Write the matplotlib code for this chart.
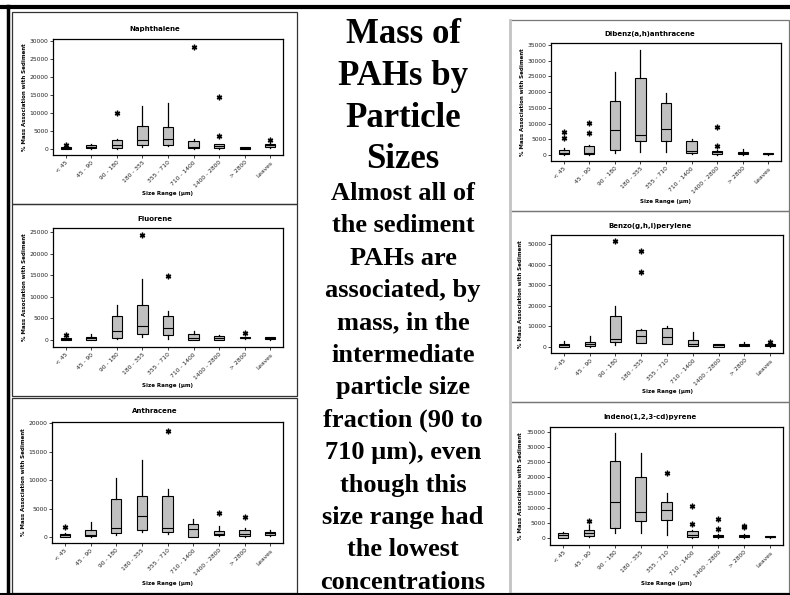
import matplotlib
matplotlib.use("Agg")
import matplotlib.pyplot as plt
from matplotlib.patches import Rectangle
from matplotlib.lines import Line2D

W, H = 790, 595

size_ranges = ["< 45", "45 - 90", "90 - 180", "180 - 355", "355 - 710",
               "710 - 1400", "1400 - 2800", "> 2800", "Leaves"]

# Naphthalene
naph_q1 = [100, 300, 300, 1000, 1100, 200, 200, 100, 500]
naph_med = [300, 600, 950, 2600, 2800, 550, 700, 300, 1000]
naph_q3 = [500, 1000, 2600, 6450, 6100, 2200, 1400, 500, 1400]
naph_lo = [0, 100, 100, 450, 700, 0, 0, 0, 300]
naph_hi = [800, 1300, 2800, 11850, 12800, 2700, 1500, 600, 1700]
naph_out = [[1200], [], [9900], [], [], [28500], [14350, 3500], [], [2600]]

# Fluorene
fluo_q1 = [0, 100, 460, 1460, 1150, 0, 0, 400, 200]
fluo_med = [300, 500, 2100, 3300, 2900, 500, 400, 550, 500]
fluo_q3 = [500, 750, 5600, 8100, 5600, 1300, 1000, 700, 750]
fluo_lo = [0, 0, 300, 600, 200, 0, 0, 300, 100]
fluo_hi = [800, 1400, 8200, 14100, 6700, 2000, 1100, 750, 800]
fluo_out = [[1150], [], [], [24200], [14800], [], [], [1700], []]

# Anthracene
anth_q1 = [0, 100, 700, 1180, 900, 0, 300, 100, 300]
anth_med = [300, 400, 1500, 3650, 1650, 1400, 550, 500, 700]
anth_q3 = [600, 1300, 6750, 7200, 7200, 2250, 1050, 1200, 900]
anth_lo = [0, 0, 300, 900, 500, 0, 100, 0, 200]
anth_hi = [750, 2650, 10300, 13500, 8350, 3200, 1900, 1600, 1200]
anth_out = [[1750], [], [], [], [18700], [], [4300], [3500], []]

# Dibenz(a,h)anthracene
diben_q1 = [200, 300, 1600, 4350, 4350, 750, 200, 200, 200]
diben_med = [500, 750, 7950, 6250, 8150, 1400, 850, 600, 350]
diben_q3 = [1600, 3000, 17300, 24400, 16650, 4350, 1300, 1000, 500]
diben_lo = [0, 0, 800, 1000, 900, 400, 0, 0, 100]
diben_hi = [2100, 3300, 26500, 33400, 19600, 5000, 1500, 1800, 700]
diben_out = [[7200, 5300], [10100, 7000], [], [], [], [], [8900, 3000], [], []]

# Benzo(g,h,i)perylene
benzo_q1 = [200, 300, 2250, 2100, 1600, 650, 200, 500, 500]
benzo_med = [800, 1450, 3900, 5500, 5000, 1300, 800, 1000, 1000]
benzo_q3 = [1600, 2300, 14900, 8250, 9200, 3550, 1300, 1600, 1450]
benzo_lo = [0, 0, 800, 1800, 1300, 300, 0, 300, 200]
benzo_hi = [2750, 5200, 19700, 8700, 10200, 7100, 1500, 2400, 1700]
benzo_out = [[], [], [51300], [46800, 36250], [], [], [], [], [2300]]

# Indeno(1,2,3-cd)pyrene
inden_q1 = [100, 650, 3300, 5470, 5800, 200, 200, 200, 200]
inden_med = [900, 1750, 11800, 8550, 9300, 1100, 650, 750, 450]
inden_q3 = [1500, 2750, 25400, 20000, 12000, 2200, 1100, 1100, 650]
inden_lo = [0, 300, 1500, 1500, 900, 0, 0, 0, 100]
inden_hi = [2000, 4250, 34700, 28100, 14800, 2500, 1300, 1400, 800]
inden_out = [[], [5500], [], [], [21450], [10500, 4600], [6350, 3050], [3500, 3900], []]

title_lines = ["Mass of", "PAHs by", "Particle", "Sizes"]
body_lines = ["Almost all of", "the sediment", "PAHs are", "associated, by",
              "mass, in the", "intermediate", "particle size", "fraction (90 to",
              "710 \u00b5m), even", "though this", "size range had", "the lowest",
              "concentrations"]


def fx(x):
    return x / W


def fy(y):
    return 1 - y / H


def stats(q1, med, q3, lo, hi, out):
    return [dict(q1=a, med=b, q3=c, whislo=d, whishi=e, fliers=f)
            for a, b, c, d, e, f in zip(q1, med, q3, lo, hi, out)]


fig = plt.figure(figsize=(W / 100, H / 100), dpi=100)

# panel frames
left_frames = [(12, 12, 297, 204), (12, 204, 297, 396), (12, 398, 297, 593)]
right_frames = [(510, 20, 789, 211), (510, 211, 789, 402), (510, 402, 789, 593)]
for x0, y0, x1, y1 in left_frames:
    fig.add_artist(Rectangle((fx(x0), fy(y1)), fx(x1) - fx(x0), fy(y0) - fy(y1),
                             transform=fig.transFigure, fill=False,
                             edgecolor="#333333", lw=0.9))
for x0, y0, x1, y1 in right_frames:
    fig.add_artist(Rectangle((fx(x0), fy(y1)), fx(x1) - fx(x0), fy(y0) - fy(y1),
                             transform=fig.transFigure, fill=False,
                             edgecolor="#777777", lw=0.9))
    fig.add_artist(Line2D([fx(x0), fx(x0)], [fy(y0), fy(y1)],
                          transform=fig.transFigure, color="#c4c4c4", lw=2))

# outer frame
fig.add_artist(Line2D([0, 1], [fy(7), fy(7)], transform=fig.transFigure,
                      color="black", lw=3))
fig.add_artist(Line2D([fx(7.5), fx(7.5)], [fy(6), 0], transform=fig.transFigure,
                      color="black", lw=2.5))
fig.add_artist(Line2D([0, 1], [fy(593.5), fy(593.5)], transform=fig.transFigure,
                      color="black", lw=1.5))

panels = [
    ("Naphthalene", (12, 297), (53, 39, 283, 155), (-1700, 30600), 5000, 30000,
     stats(naph_q1, naph_med, naph_q3, naph_lo, naph_hi, naph_out), 29, 193, 25),
    ("Fluorene", (12, 297), (53, 228, 283, 347), (-1600, 25900), 5000, 25000,
     stats(fluo_q1, fluo_med, fluo_q3, fluo_lo, fluo_hi, fluo_out), 219, 385, 25),
    ("Anthracene", (12, 297), (52, 422, 283, 543), (-1050, 20200), 5000, 20000,
     stats(anth_q1, anth_med, anth_q3, anth_lo, anth_hi, anth_out), 411, 584, 24),
    ("Dibenz(a,h)anthracene", (510, 790), (551, 43, 781, 161), (-1900, 35640), 5000, 35000,
     stats(diben_q1, diben_med, diben_q3, diben_lo, diben_hi, diben_out), 34, 201, 522),
    ("Benzo(g,h,i)perylene", (510, 790), (551, 235, 783, 353), (-2900, 54400), 10000, 50000,
     stats(benzo_q1, benzo_med, benzo_q3, benzo_lo, benzo_hi, benzo_out), 226, 392, 521),
    ("Indeno(1,2,3-cd)pyrene", (510, 790), (550, 427, 783, 545), (-2300, 36650), 5000, 35000,
     stats(inden_q1, inden_med, inden_q3, inden_lo, inden_hi, inden_out), 417, 583, 521),
]

positions = list(range(1, len(size_ranges) + 1))

for title, (px0, px1), (l, t, r, b), ylim, step, top, bstats, ty, xly, yly in panels:
    ax = fig.add_axes([fx(l), fy(b), fx(r) - fx(l), fy(t) - fy(b)])
    ax.bxp(bstats, positions=positions, widths=0.4, patch_artist=True,
           showcaps=False,
           boxprops=dict(facecolor="#c0c0c0", edgecolor="black", lw=0.8),
           medianprops=dict(color="black", lw=0.8),
           whiskerprops=dict(color="black", lw=0.9),
           flierprops=dict(marker=(6, 2, 0), markersize=4, markeredgewidth=1.0,
                           markeredgecolor="black", linestyle="none"))
    ax.set_xlim(0.5, len(size_ranges) + 0.5)
    ax.set_ylim(*ylim)
    ax.set_yticks(range(0, top + 1, step))
    ax.set_xticks(positions)
    ax.set_xticklabels(size_ranges, rotation=45, ha="right", rotation_mode="anchor")
    ax.tick_params(labelsize=4.3, length=2, width=0.6, pad=1.5, colors="#222222")
    for sp in ax.spines.values():
        sp.set_linewidth(0.9)
    fig.text(fx((px0 + px1) / 2), fy(ty), title, ha="center", va="center",
             fontsize=5, fontweight="bold")
    fig.text(fx((l + r) / 2), fy(xly), "Size Range (\u00b5m)", ha="center", va="center",
             fontsize=4, fontweight="bold")
    fig.text(fx(yly), fy((t + b) / 2), "% Mass Association with Sediment",
             ha="center", va="center", rotation=90, fontsize=4, fontweight="bold")

# centre text
for i, line in enumerate(title_lines):
    fig.text(fx(403), fy(43 + i * 41.8), line, ha="center", va="baseline",
             fontsize=25, fontweight="bold", family="Liberation Serif")
for i, line in enumerate(body_lines):
    fig.text(fx(403), fy(200 + i * 32.4), line, ha="center", va="baseline",
             fontsize=19, fontweight="bold", family="Liberation Serif")

fig.savefig("out.png", dpi=100)
